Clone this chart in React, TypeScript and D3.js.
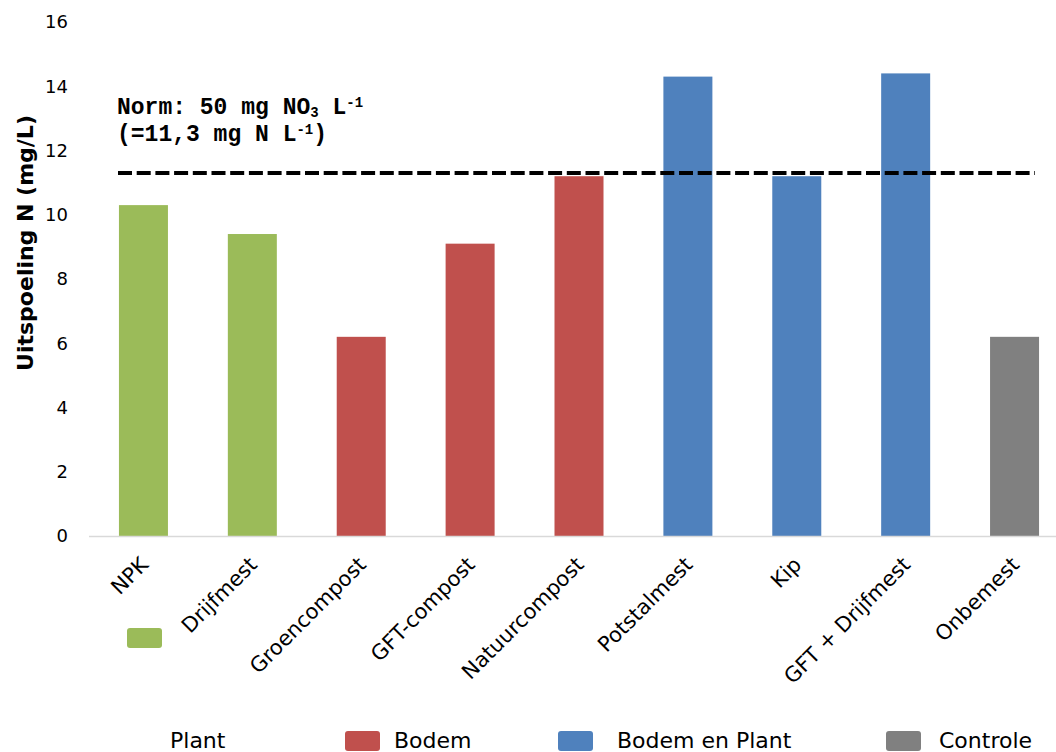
import React from "react";
import * as d3 from "d3";

const categories = ["NPK", "Drijfmest", "Groencompost", "GFT-compost", "Natuurcompost", "Potstalmest", "Kip", "GFT + Drijfmest", "Onbemest"];
const values = [10.3, 9.4, 6.2, 9.1, 11.2, 14.3, 11.2, 14.4, 6.2];
const groups = ["Plant", "Plant", "Bodem", "Bodem", "Bodem", "Bodem en Plant", "Bodem en Plant", "Bodem en Plant", "Controle"];
const groupNames = ["Plant", "Bodem", "Bodem en Plant", "Controle"];
const groupColors = ["#9BBB59", "#C0504D", "#4F81BD", "#808080"];
const yTicks = [0, 2, 4, 6, 8, 10, 12, 14, 16];
const normValue = 11.3;

const W = 1056;
const H = 752;
const FONT = "'DejaVu Sans', sans-serif";
const MONO = "'Liberation Mono', 'Courier New', monospace";

export default function App() {
  const x = d3.scaleBand<string>().domain(categories).range([89, 1069]).paddingInner(0.55).paddingOuter(0.275);
  const y = d3.scaleLinear().domain([0, 16]).range([536, 22]);
  const color = d3.scaleOrdinal<string, string>().domain(groupNames).range(groupColors);

  const legendPos = [
    { sx: 127, sy: 628, tx: 170, ty: 748 },
    { sx: 345, sy: 731, tx: 394, ty: 748 },
    { sx: 558, sy: 731, tx: 617, ty: 748 },
    { sx: 886, sy: 731, tx: 939, ty: 748 },
  ];

  return (
    <svg width={W} height={H} style={{ position: "absolute", left: 0, top: 0, background: "#fff" }}>
      {/* y tick labels */}
      {yTicks.map((t) => (
        <text key={t} x={68} y={y(t)} dy="0.35em" textAnchor="end" fontFamily={FONT} fontSize={18} fill="#000">
          {t}
        </text>
      ))}
      {/* y title */}
      <text transform={`translate(33,243) rotate(-90)`} textAnchor="middle" fontFamily={FONT} fontWeight="bold" fontSize={22} fill="#000">
        Uitspoeling N (mg/L)
      </text>
      {/* bars */}
      {categories.map((c, i) => (
        <rect key={c} x={x(c)} y={y(values[i])} width={x.bandwidth()} height={y(0) - y(values[i])} fill={color(groups[i])} />
      ))}
      {/* axis line */}
      <line x1={89} x2={W} y1={y(0) + 0.5} y2={y(0) + 0.5} stroke="#d9d9d9" strokeWidth={1.5} />
      {/* category labels */}
      {categories.map((c) => {
        const cx = (x(c) as number) + x.bandwidth() / 2;
        return (
          <text key={c} transform={`translate(${cx + 6},${566}) rotate(-45)`} textAnchor="end" fontFamily={FONT} fontSize={21} fill="#000">
            {c}
          </text>
        );
      })}
      {/* norm line */}
      <line x1={118} x2={1035} y1={y(normValue)} y2={y(normValue)} stroke="#000" strokeWidth={4} strokeDasharray="14,4.7" />
      <text x={117} y={114} fontFamily={MONO} fontWeight="bold" fontSize={23} fill="#000">
        Norm: 50 mg NO<tspan dy={3} fontSize={14}>3</tspan><tspan dy={-3}> L</tspan><tspan dy={-7} fontSize={14}>-1</tspan>
      </text>
      <text x={117} y={141} fontFamily={MONO} fontWeight="bold" fontSize={23} fill="#000">
        (=11,3 mg N L<tspan dy={-7} fontSize={14}>-1</tspan><tspan dy={7}>)</tspan>
      </text>
      {/* legend */}
      {groupNames.map((g, i) => (
        <g key={g}>
          <rect x={legendPos[i].sx} y={legendPos[i].sy} width={35} height={20} rx={3} fill={color(g)} />
          <text x={legendPos[i].tx} y={legendPos[i].ty} fontFamily={FONT} fontSize={22} fill="#000">
            {g}
          </text>
        </g>
      ))}
    </svg>
  );
}
